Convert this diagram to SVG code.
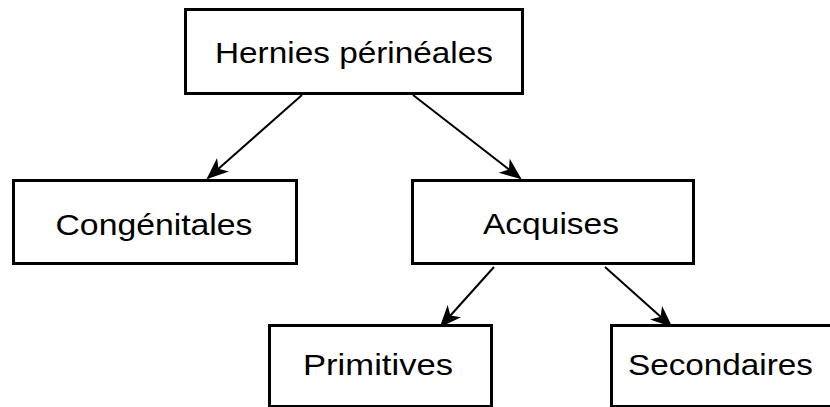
<svg xmlns="http://www.w3.org/2000/svg" width="830" height="407" viewBox="0 0 830 407">
<style>
.box{fill:#fff;stroke:#000;stroke-width:3}
.lbl{font-family:"Liberation Sans",Arial,sans-serif;font-size:29px;fill:#000;text-anchor:middle}
.edge{stroke:#000;stroke-width:2;fill:none;marker-end:url(#ah)}
</style>
<defs>
<marker id="ah" markerUnits="userSpaceOnUse" markerWidth="24" markerHeight="20" refX="20" refY="9" orient="auto">
<path d="M0,0 L22,9 L0,18 L6,9 z" fill="#000"/>
</marker>
</defs>
<rect width="830" height="407" fill="#fff"/>
<g id="edges">
<line class="edge" x1="302" y1="95" x2="208" y2="178"/>
<line class="edge" x1="413" y1="95" x2="520" y2="178"/>
<line class="edge" x1="494" y1="267" x2="441" y2="326"/>
<line class="edge" x1="605" y1="267" x2="671" y2="326"/>
</g>
<g id="hernies">
<rect class="box" x="185.5" y="9.5" width="337" height="84"/>
<text class="lbl" x="354" y="63" textLength="278" lengthAdjust="spacingAndGlyphs">Hernies périnéales</text>
</g>
<g id="congenitales">
<rect class="box" x="13.5" y="180.5" width="283" height="83"/>
<text class="lbl" x="154" y="235" textLength="197" lengthAdjust="spacingAndGlyphs">Congénitales</text>
</g>
<g id="acquises">
<rect class="box" x="412.5" y="180.5" width="281" height="83"/>
<text class="lbl" x="551" y="234" textLength="136" lengthAdjust="spacingAndGlyphs">Acquises</text>
</g>
<g id="primitives">
<rect class="box" x="269.5" y="325.5" width="222" height="81"/>
<text class="lbl" x="378" y="375" textLength="150" lengthAdjust="spacingAndGlyphs">Primitives</text>
</g>
<g id="secondaires">
<rect class="box" x="611.5" y="325.5" width="222" height="81"/>
<text class="lbl" x="720.5" y="375" textLength="185" lengthAdjust="spacingAndGlyphs">Secondaires</text>
</g>
</svg>
